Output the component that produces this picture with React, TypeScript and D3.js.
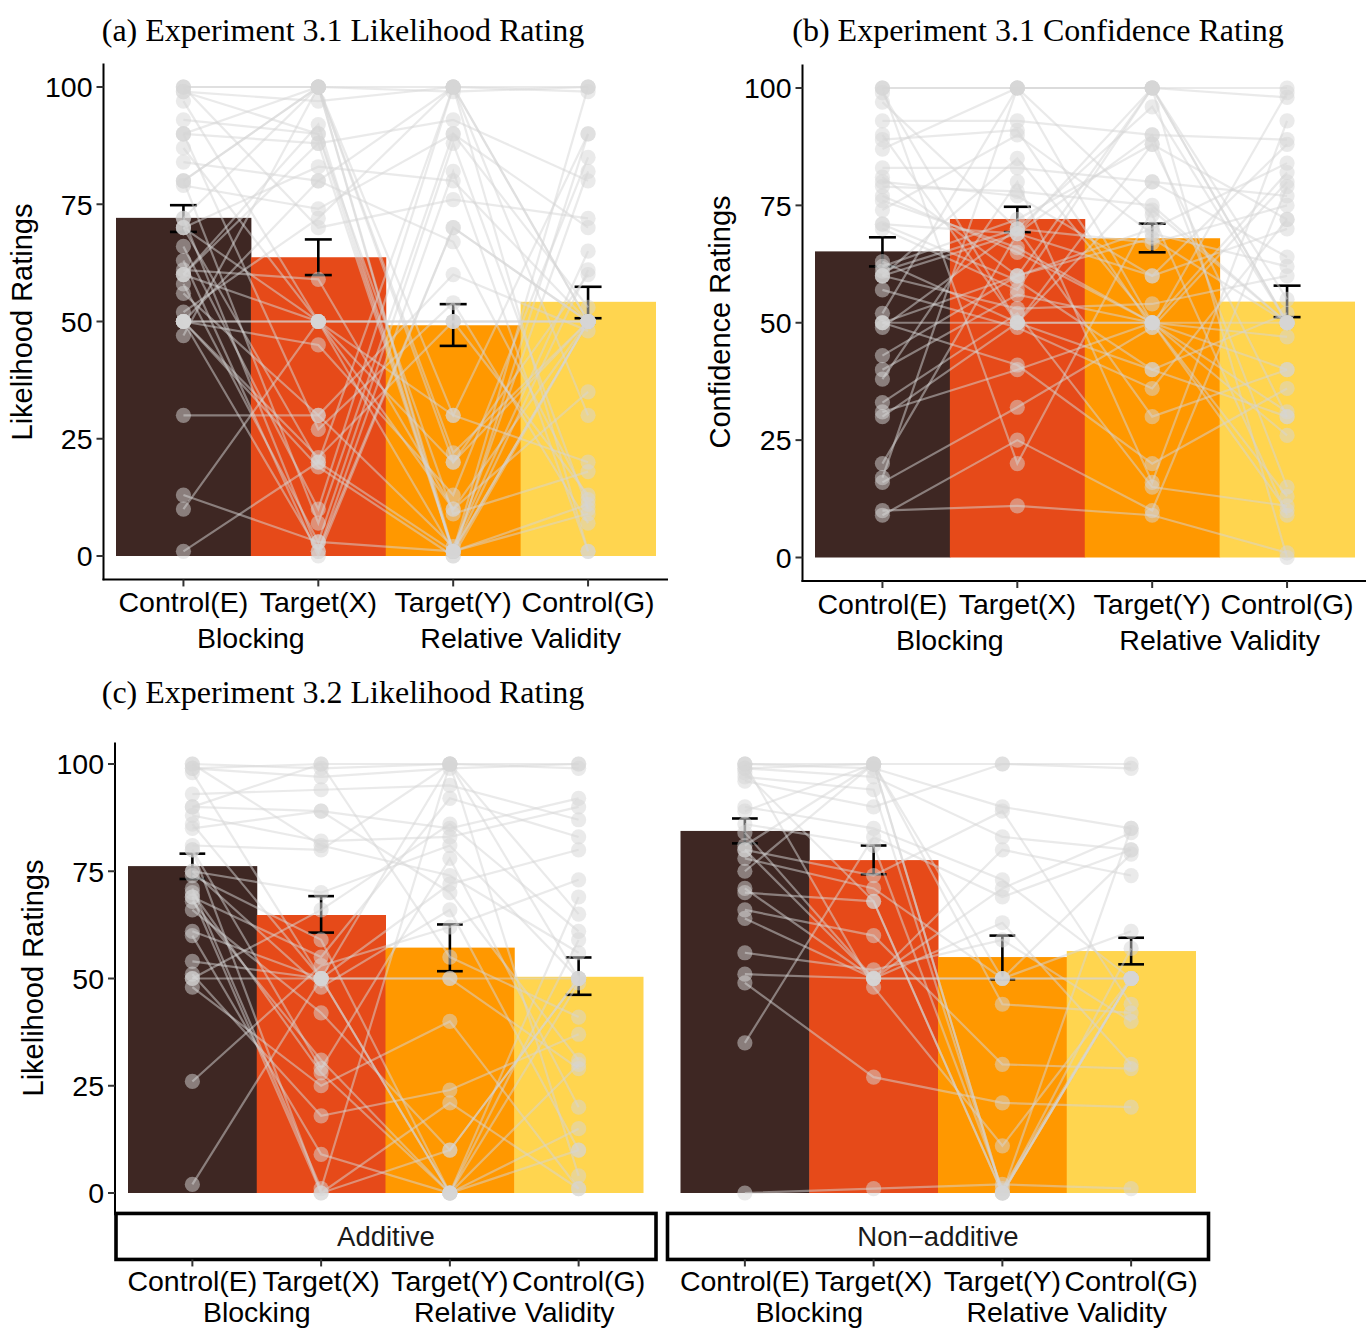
import React from 'react';
import * as d3 from 'd3';

// ---------- data ----------
const conditions = ['Control(E)', 'Target(X)', 'Target(Y)', 'Control(G)'];
const groupLabels = ['Blocking', 'Relative Validity'];
const barColors = ['#3E2723', '#E64A19', '#FF9800', '#FFD54F'];
const yTicks = [0, 25, 50, 75, 100];

const titleA = '(a) Experiment 3.1 Likelihood Rating';
const titleB = '(b) Experiment 3.1 Confidence Rating';
const titleC = '(c) Experiment 3.2 Likelihood Rating';
const stripLabels = ['Additive', 'Non\u2212additive'];

// Panel (a): Experiment 3.1 likelihood
const meansA = [72.1, 63.7, 49.2, 54.2];
const errLowA = [69.1, 59.9, 44.8, 50.7];
const errHighA = [74.8, 67.5, 53.7, 57.4];
const participantsA: number[][] = [
  [100, 100, 100, 100], [100, 100, 99, 100], [99, 97, 100, 99], [97, 50, 10, 50],
  [93, 90, 1, 50], [90, 100, 30, 90], [90, 88, 93, 80], [87, 50, 1, 50],
  [84, 80, 100, 1], [80, 100, 0, 50], [79, 74, 90, 70], [72, 100, 1, 100],
  [70, 83, 80, 50], [70, 50, 50, 50], [70, 20, 1, 82], [66, 10, 100, 30],
  [63, 0, 70, 50], [61, 59, 10, 35], [60, 92, 1, 61], [60, 50, 20, 50],
  [58, 3, 88, 10], [56, 30, 2, 65], [52, 72, 100, 50], [50, 50, 50, 50],
  [50, 50, 50, 50], [50, 80, 67, 12], [50, 1, 82, 1], [50, 19, 0, 90],
  [50, 45, 13, 85], [47, 100, 22, 50], [30, 30, 60, 48], [13, 3, 1, 9],
  [10, 50, 30, 20], [1, 20, 100, 50], [100, 70, 76, 72], [99, 90, 9, 18],
  [90, 27, 54, 7], [80, 7, 90, 53], [72, 1, 70, 50], [60, 88, 1, 11],
  [50, 21, 50, 13], [80, 100, 20, 60],
];

// Panel (b): Experiment 3.1 confidence
const meansB = [65.2, 72.1, 68.0, 54.5];
const errLowB = [62.0, 69.3, 65.0, 51.2];
const errHighB = [68.2, 74.7, 71.1, 57.9];
const participantsB: number[][] = [
  [100, 100, 100, 100], [100, 100, 100, 98], [97, 70, 96, 50], [93, 93, 90, 89],
  [90, 50, 88, 30], [87, 100, 50, 13], [83, 83, 80, 77], [81, 60, 70, 84],
  [79, 78, 75, 50], [77, 65, 50, 82], [74, 90, 69, 62], [71, 69, 60, 70],
  [70, 57, 100, 0], [63, 50, 40, 52], [61, 70, 67, 75], [60, 53, 54, 60],
  [60, 85, 50, 47], [57, 49, 36, 72], [52, 100, 73, 9], [50, 50, 50, 50],
  [50, 41, 20, 36], [49, 70, 30, 40], [43, 60, 100, 55], [40, 56, 50, 26],
  [38, 80, 16, 93], [33, 52, 15, 11], [31, 40, 50, 31], [20, 69, 90, 15],
  [17, 100, 100, 50], [16, 32, 49, 80], [10, 11, 9, 1], [9, 25, 10, 79],
  [100, 20, 74, 50], [99, 50, 80, 64], [89, 91, 49, 99], [80, 77, 60, 88],
  [76, 66, 50, 40], [71, 59, 40, 30], [60, 69, 100, 50], [50, 60, 68, 50],
  [30, 50, 50, 10], [62, 72, 88, 72],
];

// Panel (c) Additive: Experiment 3.2 likelihood
const meansAdd = [76.2, 64.8, 57.2, 50.4];
const errLowAdd = [73.2, 60.7, 51.7, 46.2];
const errHighAdd = [79.1, 69.2, 62.6, 54.9];
const participantsAdd: number[][] = [
  [100, 99, 100, 99], [99, 97, 99, 100], [98, 50, 100, 50], [93, 94, 95, 87],
  [90, 89, 85, 92], [88, 82, 83, 90], [86, 50, 0, 30], [81, 80, 100, 65],
  [80, 29, 78, 20], [75, 70, 81, 50], [74, 59, 0, 69], [71, 1, 100, 4],
  [69, 55, 92, 83], [68, 31, 0, 15], [66, 42, 10, 50], [61, 50, 72, 80],
  [60, 9, 0, 10], [54, 50, 50, 29], [51, 18, 24, 37], [50, 50, 50, 50],
  [50, 66, 86, 61], [48, 25, 40, 1], [26, 53, 62, 73], [2, 50, 0, 59],
  [100, 81, 74, 56], [90, 100, 55, 41], [80, 0, 21, 1], [75, 48, 66, 10],
  [70, 28, 0, 49], [99, 100, 100, 100], [85, 89, 70, 31], [69, 0, 10, 50],
];

// Panel (c) Non-additive
const meansNon = [84.4, 77.6, 55.0, 56.4];
const errLowNon = [81.5, 74.3, 49.8, 53.3];
const errHighNon = [87.3, 81.0, 60.0, 59.5];
const participantsNon: number[][] = [
  [100, 100, 100, 100], [100, 99, 90, 85], [99, 100, 0, 50], [99, 97, 83, 80],
  [97, 94, 0, 50], [96, 90, 100, 99], [90, 85, 73, 50], [89, 100, 50, 79],
  [86, 81, 1, 50], [84, 50, 71, 84], [81, 100, 0, 57], [80, 74, 89, 44],
  [78, 71, 50, 61], [75, 100, 44, 42], [71, 50, 63, 30], [70, 68, 0, 50],
  [66, 60, 30, 29], [64, 50, 80, 74], [56, 52, 59, 40], [51, 50, 50, 50],
  [49, 27, 21, 20], [35, 83, 69, 80], [0, 1, 2, 1], [100, 48, 11, 50],
  [98, 68, 0, 85], [80, 50, 50, 50],
];

// ---------- layout ----------
const W = 1372;
const H = 1329;
const SANS = '"Liberation Sans", Arial, Helvetica, sans-serif';
const SERIF = '"Liberation Serif", "Times New Roman", serif';

type PanelCfg = {
  means: number[]; lo: number[]; hi: number[]; pts: number[][];
  axisX: number; right: number; barL: number; barR: number;
  y0: number; y100: number;
  showY: boolean; yTitle?: string; yTitleX?: number; yTitleY?: number;
  strip?: string;
};

const panels: PanelCfg[] = [
  { means: meansA, lo: errLowA, hi: errHighA, pts: participantsA,
    axisX: 103.5, right: 668, barL: 116, barR: 655.5, y0: 556, y100: 87,
    showY: true, yTitle: 'Likelihood Ratings', yTitleX: 32, yTitleY: 322 },
  { means: meansB, lo: errLowB, hi: errHighB, pts: participantsB,
    axisX: 802.5, right: 1366, barL: 815, barR: 1354.5, y0: 557.5, y100: 88,
    showY: true, yTitle: 'Confidence Ratings', yTitleX: 730, yTitleY: 322 },
  { means: meansAdd, lo: errLowAdd, hi: errHighAdd, pts: participantsAdd,
    axisX: 115, right: 657, barL: 128, barR: 643, y0: 1193, y100: 764,
    showY: true, yTitle: 'Likelihood Ratings', yTitleX: 43, yTitleY: 978, strip: stripLabels[0] },
  { means: meansNon, lo: errLowNon, hi: errHighNon, pts: participantsNon,
    axisX: 666.5, right: 1209.5, barL: 680.5, barR: 1195.5, y0: 1193, y100: 764,
    showY: false, strip: stripLabels[1] },
];

function Panel({ cfg }: { cfg: PanelCfg }) {
  const y = d3.scaleLinear().domain([0, 100]).range([cfg.y0, cfg.y100]);
  const x = d3.scaleBand<string>().domain(conditions).range([cfg.barL, cfg.barR]).padding(0);
  const bw = x.bandwidth();
  const cx = (i: number) => (x(conditions[i]) as number) + bw / 2;
  const yBottom = y(-5);
  const yTop = y(105);
  const line = d3.line<number>().x((_, i) => cx(i)).y((v) => y(v));
  const capW = bw * 0.2;

  const stripTop = yBottom - 1;
  const stripH = 46;
  const tickTop = cfg.strip ? stripTop + stripH : yBottom;
  const label1 = cfg.strip ? tickTop + 32 : yBottom + 33;
  const label2 = cfg.strip ? tickTop + 63 : yBottom + 69;

  return (
    <g>
      {cfg.means.map((m, i) => (
        <rect key={'b' + i} x={x(conditions[i])} y={y(m)} width={bw + 0.5}
          height={y(0) - y(m)} fill={barColors[i]} />
      ))}
      {cfg.means.map((_, i) => (
        <g key={'e' + i} stroke="#000" strokeWidth={2.6} fill="none">
          <line x1={cx(i)} x2={cx(i)} y1={y(cfg.hi[i])} y2={y(cfg.lo[i])} />
          <line x1={cx(i) - capW / 2} x2={cx(i) + capW / 2} y1={y(cfg.hi[i])} y2={y(cfg.hi[i])} />
          <line x1={cx(i) - capW / 2} x2={cx(i) + capW / 2} y1={y(cfg.lo[i])} y2={y(cfg.lo[i])} />
        </g>
      ))}
      {cfg.pts.map((p, k) => (
        <path key={'l' + k} d={line(p) || ''} fill="none" stroke="#d6d6d6"
          strokeOpacity={0.5} strokeWidth={2.2} />
      ))}
      {cfg.pts.map((p, k) =>
        p.map((v, i) => (
          <circle key={'p' + k + '-' + i} cx={cx(i)} cy={y(v)} r={7.6}
            fill="#d6d6d6" fillOpacity={0.5} />
        ))
      )}
      {cfg.showY && (
        <g>
          <line x1={cfg.axisX} x2={cfg.axisX} y1={yTop} y2={yBottom + 0.8} stroke="#000" strokeWidth={2} />
          {yTicks.map((t) => (
            <g key={'yt' + t}>
              <line x1={cfg.axisX - 7} x2={cfg.axisX} y1={y(t)} y2={y(t)} stroke="#333" strokeWidth={2} />
              <text x={cfg.axisX - 11} y={y(t)} dy="0.36em" textAnchor="end"
                fontFamily={SANS} fontSize={28.5} fill="#000">{t}</text>
            </g>
          ))}
          <text transform={`translate(${cfg.yTitleX},${cfg.yTitleY}) rotate(-90)`} textAnchor="middle"
            fontFamily={SANS} fontSize={29} fill="#000">{cfg.yTitle}</text>
        </g>
      )}
      {!cfg.strip && (
        <line x1={cfg.axisX - 1} x2={cfg.right} y1={yBottom} y2={yBottom} stroke="#000" strokeWidth={2} />
      )}
      {cfg.strip && (
        <g>
          <rect x={cfg.axisX + 1} y={stripTop} width={cfg.right - cfg.axisX - 2} height={stripH}
            fill="#fff" stroke="#000" strokeWidth={3.6} />
          <text x={(cfg.axisX + cfg.right) / 2} y={stripTop + stripH / 2} dy="0.36em" textAnchor="middle"
            fontFamily={SANS} fontSize={27.5} fill="#1a1a1a">{cfg.strip}</text>
        </g>
      )}
      {conditions.map((c, i) => (
        <g key={'xt' + i}>
          <line x1={cx(i)} x2={cx(i)} y1={tickTop} y2={tickTop + 7} stroke="#333" strokeWidth={2} />
          <text x={cx(i)} y={label1} textAnchor="middle" fontFamily={SANS} fontSize={28.5} fill="#000">{c}</text>
        </g>
      ))}
      {groupLabels.map((g, j) => (
        <text key={'g' + j} x={cfg.barL + bw * (1 + 2 * j)} y={label2} textAnchor="middle"
          fontFamily={SANS} fontSize={28.5} fill="#000">{g}</text>
      ))}
    </g>
  );
}

export default function App() {
  return (
    <svg width={W} height={H} viewBox={`0 0 ${W} ${H}`}
      style={{ position: 'absolute', left: 0, top: 0, display: 'block', background: '#fff' }}>
      <rect x={0} y={0} width={W} height={H} fill="#fff" />
      <text x={343} y={41} textAnchor="middle" fontFamily={SERIF} fontSize={32} fill="#000">{titleA}</text>
      <text x={1038} y={41} textAnchor="middle" fontFamily={SERIF} fontSize={32} fill="#000">{titleB}</text>
      <text x={343} y={703} textAnchor="middle" fontFamily={SERIF} fontSize={32} fill="#000">{titleC}</text>
      {panels.map((p, i) => <Panel key={i} cfg={p} />)}
    </svg>
  );
}
